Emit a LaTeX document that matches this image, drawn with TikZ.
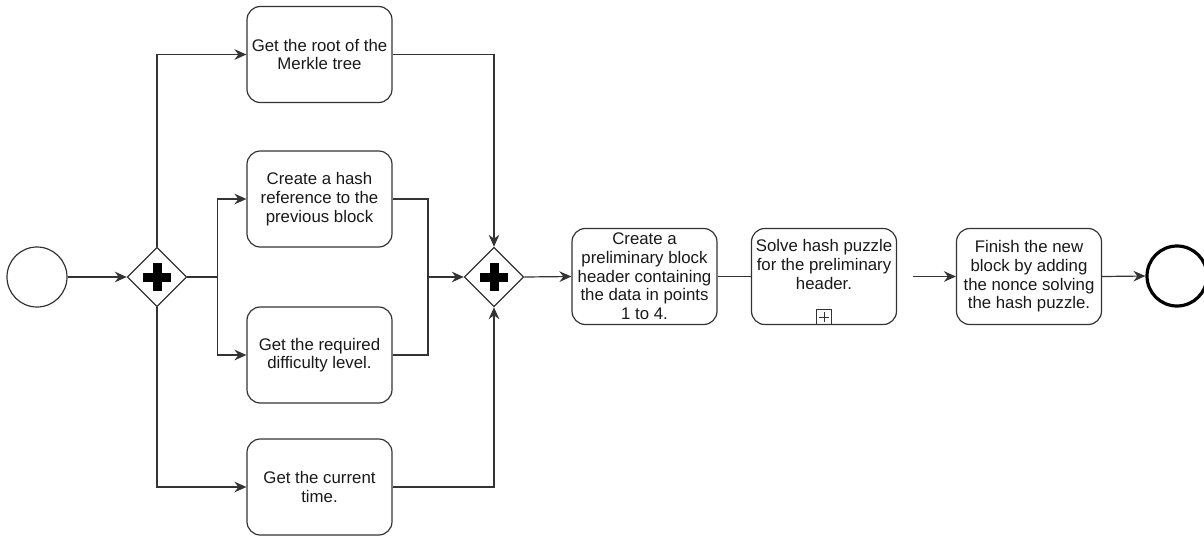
\documentclass[tikz,border=0pt]{standalone}
\usepackage{fontspec}
\setmainfont{Liberation Sans}
\usetikzlibrary{shapes.geometric,arrows.meta,positioning}
\begin{document}
\begin{tikzpicture}[x=0.75pt,y=-0.75pt,
  line width=0.9pt,
  conn/.style={draw=black!80},
  task/.style={draw=black!80,rounded corners=10pt,minimum width=108.75pt,minimum height=72pt,
    align=center,inner sep=1pt,font=\fontsize{12.6}{14}\selectfont,text=black!90},
  gate/.style={draw=black!80,shape=diamond,minimum width=44.5pt,minimum height=44.5pt,inner sep=0pt},
  evt/.style={draw=black!80,circle,minimum size=45pt,inner sep=0pt},
  arr/.style={conn,-{Stealth[length=9pt,width=8pt,inset=3pt]}},
  plusbar/.style={fill=black,draw=none}]
\useasboundingbox (0,0) rectangle (1204,537);

\node[evt] (start) at (37,277) {};
\node[gate] (g1) at (157,277) {};
\node[gate] (g2) at (494,277) {};
\foreach \g in {g1,g2}{
  \fill[plusbar] ([shift={(-14,-4.5)}]\g.center) rectangle ([shift={(14,4.5)}]\g.center);
  \fill[plusbar] ([shift={(-4.5,-14)}]\g.center) rectangle ([shift={(4.5,14)}]\g.center);
}

\node[task] (merkle) at (319.5,54.5) {Get the root of the\\Merkle tree};
\node[task] (hash) at (319.5,199) {Create a hash\\reference to the\\previous block};
\node[task] (diff) at (319.5,355) {Get the required\\difficulty level.};
\node[task] (time) at (319.5,487) {Get the current\\time.};

\node[task] (prelim) at (644.5,276.5) {Create a\\preliminary block\\header containing\\the data in points\\1 to 4.};
\node[task] (solve) at (824,276.5) {Solve hash puzzle\\for the preliminary\\header.\\[4pt]};
\node[draw=black!80,line width=0.7pt,minimum size=11.5pt,inner sep=0pt,anchor=south] (mk) at (solve.south) {};
\draw[conn,line width=0.6pt] ([xshift=-4]mk.center) -- ([xshift=4]mk.center);
\draw[conn,line width=0.6pt] ([yshift=-4]mk.center) -- ([yshift=4]mk.center);

\node[task] (finish) at (1029,276.5) {Finish the new\\block by adding\\the nonce solving\\the hash puzzle.};
\node[evt,line width=2.4pt,draw=black] (end) at (1177,276) {};

\coordinate (split) at (217.5,277);
\coordinate (join) at (428,277);

\draw[arr] (start) -- (g1);
\draw[arr] (g1.north) |- (merkle.west);
\draw[arr] (g1.south) |- (time.west);
\draw[conn] (g1.east) -- (split);
\draw[arr] (split) |- (hash.west);
\draw[arr] (split) |- (diff.west);
\draw[arr] (merkle.east) -| (g2.north);
\draw[arr] (time.east) -| (g2.south);
\draw[conn] (hash.east) -| (join);
\draw[conn] (diff.east) -| (join);
\draw[arr] (join) -- (g2.west);
\draw[arr] (g2.east) -- (prelim.west);
\draw[conn] (prelim.east) -- (solve.west);
\draw[arr] ([xshift=12]solve.east) -- (finish.west);
\draw[arr] (finish.east) -- (end.west);
\end{tikzpicture}
\end{document}
